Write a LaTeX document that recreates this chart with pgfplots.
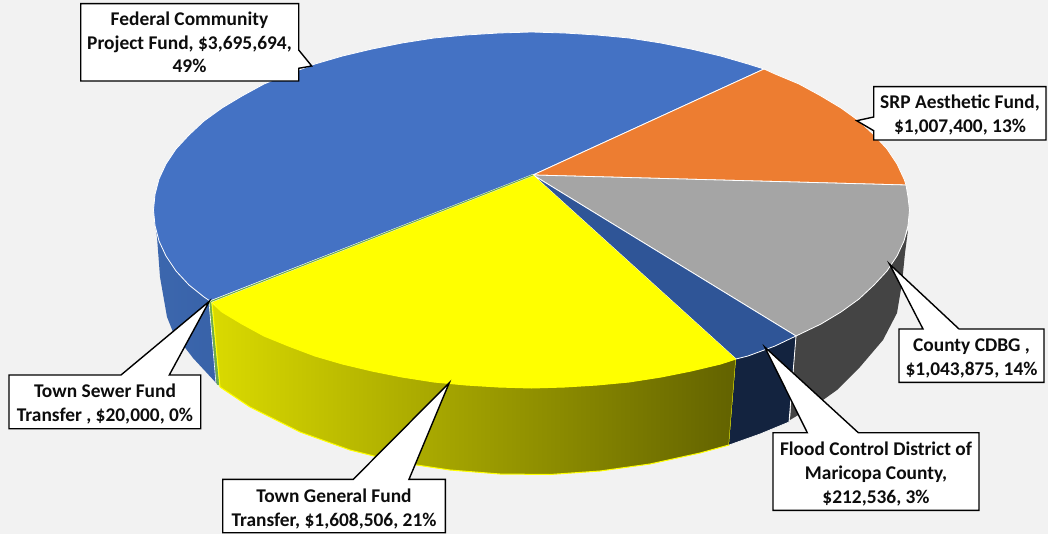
\documentclass[border=0pt]{standalone}
\usepackage{pgfplots}
\pgfplotsset{compat=1.18}
\usepackage{fontspec}
\setmainfont{Carlito}
\definecolor{bgc}{HTML}{F2F2F2}
\definecolor{cblue}{HTML}{4472C4}
\definecolor{corange}{HTML}{ED7D31}
\definecolor{cgray}{HTML}{A5A5A5}
\definecolor{cyellow}{HTML}{FFFF00}
\definecolor{cnavy}{HTML}{2F5597}
\definecolor{cgreen}{HTML}{70AD47}
\definecolor{sblueL}{HTML}{3C67AE}
\definecolor{sblueR}{HTML}{3862A8}
\definecolor{syellowL}{HTML}{DADA00}
\definecolor{syellowR}{HTML}{626200}
\definecolor{sgray}{HTML}{444444}
\definecolor{snavy}{HTML}{13233F}
\definecolor{txt}{HTML}{0D0D0D}
\begin{document}
\begin{tikzpicture}
\begin{axis}[
    scale only axis,
    width=1048pt,
    height=534pt,
    xmin=0, xmax=1048,
    ymin=0, ymax=534,
    y dir=reverse,
    hide axis,
    clip=true,
]
% background
\addplot[fill=bgc, draw=none] coordinates {(0,0) (1048,0) (1048,534) (0,534)} -- cycle;

% side walls
\addplot[draw=none, left color=sblueL, right color=sblueR] coordinates {
  (154,218) (155,225.5) (159,241) (166,256) (176,271) (189,285) (204,297) (210,301)
  (218,385) (193,358) (173,332) (167,317) (160,277) (157,237)} -- cycle;
\addplot[draw=cgreen, fill=cgreen, line width=0.6pt] coordinates {(209,302) (211,302) (219,385) (217,384)} -- cycle;
\addplot[draw=cyellow, line width=1pt, left color=syellowL, right color=syellowR] coordinates {
  (212,303) (222,312) (242,324) (264,336) (288.5,346) (315,356) (342.5,364) (372,371)
  (402,377) (434,382) (466,385) (498.5,387) (531.5,388) (564.5,387) (597,385) (629,382)
  (661,377) (691,371) (720.5,364) (736,359)
  (729,445) (700,453) (650,464) (600,471) (550,474.5) (500,474) (450,470) (400,462.5)
  (350,450) (300,432) (250,407) (220,387)} -- cycle;
\addplot[draw=none, fill=snavy] coordinates {
  (736,359) (748,356) (775,346) (796,336) (789,422) (760,434) (729,445)} -- cycle;
\addplot[draw=none, fill=sgray] coordinates {
  (796,336) (821,324) (841,312) (859,299) (874,285) (887,271) (897,256) (904,241) (908,230)
  (905,253) (902,283) (897,313) (883,340) (860,367) (837,390) (823,400) (790,420)} -- cycle;
\addplot[draw=white, line width=0.8pt] coordinates {(796,336) (789,422)};
\addplot[draw=white, line width=0.6pt] coordinates {(209,302) (216,384)};
\addplot[draw=white, line width=0.6pt] coordinates {(729,445) (760,434) (789,422)};

% top face
\addplot[fill=cblue, draw=white, line width=0.8pt] coordinates {
  (533,175) (764,69) (748,64) (720.5,56) (691,49) (661,43) (629,38) (597,35) (564.5,33)
  (531.5,32) (498.5,33) (466,35) (434,38) (402,43) (372,49) (342.5,56) (315,64) (288.5,74)
  (264,84) (242,96) (222,108) (204,121) (189,135) (176,149) (166,164) (159,179) (155,194.5)
  (153.5,210) (155,225.5) (159,241) (166,256) (176,271) (189,285) (204,297) (210,301)} -- cycle;
\addplot[fill=corange, draw=white, line width=0.8pt] coordinates {
  (533,175) (906,185) (904,179) (897,164) (887,149) (874,135) (859,121) (841,108) (821,96)
  (799,84) (775,74) (764,69)} -- cycle;
\addplot[fill=cgray, draw=white, line width=0.8pt] coordinates {
  (533,175) (796,336) (821,324) (841,312) (859,299) (874,285) (887,271) (897,256) (904,241)
  (908,225.5) (909.5,210) (908,197) (906,185)} -- cycle;
\addplot[fill=cnavy, draw=white, line width=0.8pt] coordinates {
  (533,175) (736,359) (748,356) (775,346) (796,336)} -- cycle;
\addplot[fill=cyellow, draw=none] coordinates {
  (533,175) (212,302) (222,312) (242,324) (264,336) (288.5,346) (315,356) (342.5,364) (372,371)
  (402,377) (434,382) (466,385) (498.5,387) (531.5,388) (564.5,387) (597,385) (629,382)
  (661,377) (691,371) (720.5,364) (736,359)} -- cycle;
\addplot[draw=white, line width=1.8pt] coordinates {(533,175) (211,301.5)};
\addplot[draw=cgreen, line width=1.1pt] coordinates {(533,175) (211,301.5)};

% callouts
\pgfplotsset{callout/.style={fill=white, draw=black, line width=1.4pt, line join=miter}}
\addplot[callout] coordinates {(80.7,3.7) (298.7,3.7) (298.7,50) (311.7,66) (298.7,68.3) (298.7,81) (80.7,81)} -- cycle;
\addplot[callout] coordinates {(873.7,86.7) (1046,86.7) (1046,140) (873.7,140) (873.7,130.7) (856.7,120.7) (873.7,117)} -- cycle;
\addplot[callout] coordinates {(899,329) (923,329) (889.5,264) (959,329) (1044,329) (1044,382.3) (899,382.3)} -- cycle;
\addplot[callout] coordinates {(773,432.7) (807.3,432.7) (764.7,347) (858.3,432.7) (979,432.7) (979,510.3) (773,510.3)} -- cycle;
\addplot[callout] coordinates {(222.7,479.3) (353.3,479.3) (449.3,382.7) (409,479.3) (445.3,479.3) (445.3,532.7) (222.7,532.7)} -- cycle;
\addplot[callout] coordinates {(9,375) (121,375) (209.3,301.3) (169.3,375) (200.7,375) (200.7,428.7) (9,428.7)} -- cycle;

\tikzset{lab/.style={anchor=base, inner sep=0pt, text=txt, font=\fontsize{19.4}{24}\selectfont\bfseries}}
\node[lab] at (axis cs:189.5,26) {Federal Community};
\node[lab] at (axis cs:189.5,50) {Project Fund, \$3,695,694,};
\node[lab] at (axis cs:189.5,73) {49\%};
\node[lab] at (axis cs:960,109) {SRP Aesthetic Fund,};
\node[lab] at (axis cs:960,133) {\$1,007,400, 13\%};
\node[lab] at (axis cs:971.5,351.5) {County CDBG ,};
\node[lab] at (axis cs:971.5,375) {\$1,043,875, 14\%};
\node[lab] at (axis cs:876,455.5) {Flood Control District of};
\node[lab] at (axis cs:876,479.5) {Maricopa County,};
\node[lab] at (axis cs:876,503) {\$212,536, 3\%};
\node[lab] at (axis cs:334,502.5) {Town General Fund};
\node[lab] at (axis cs:334,526) {Transfer, \$1,608,506, 21\%};
\node[lab] at (axis cs:105,397) {Town Sewer Fund};
\node[lab] at (axis cs:105,421) {Transfer , \$20,000, 0\%};
\end{axis}
\end{tikzpicture}
\end{document}
